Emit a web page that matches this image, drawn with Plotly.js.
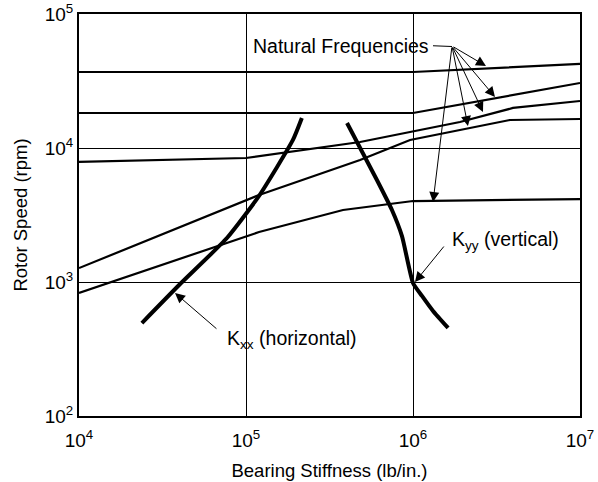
<!DOCTYPE html>
<html>
<head>
<meta charset="utf-8">
<script src="https://cdn.plot.ly/plotly-3.0.1.min.js"></script>
<style>html,body{margin:0;padding:0;background:#fff;}</style>
</head>
<body>
<div id="chart" style="width:598px;height:482px;"></div>
<script>
// Natural frequency curves (bearing stiffness lb/in, rotor speed rpm)
const xA = [1e4, 1e6, 1e7];
const yA = [36900, 36900, 42400];
const xB = [1e4, 1e6, 1e7];
const yB = [18240, 18240, 30560];
const xC = [1e4, 1e5, 4.82e5, 1.91e6, 3.97e6, 1e7];
const yC = [7870, 8420, 11090, 15630, 19900, 22420];
const xD = [1e4, 1.197e5, 4.82e5, 9.6e5, 1.91e6, 3.8e6, 1e7];
const yD = [1270, 4460, 8130, 11480, 13620, 16180, 16460];
const xE = [1e4, 1.197e5, 3.81e5, 1e6, 1e7];
const yE = [828, 2360, 3445, 4020, 4160];
// Bearing stiffness curves
const xKxx = [23800, 40300, 76900, 119700, 191000, 216000];
const yKxx = [494, 966, 2130, 4390, 11480, 16740];
const xKyy = [402700, 608000, 748000, 859000, 1000000, 1132000, 1318000, 1622000];
const yKyy = [15380, 5770, 3445, 2200, 984, 787, 608, 454];
// Tick labels
const xTickVals = [1e4, 1e5, 1e6, 1e7];
const xTickText = ['10<sup>4</sup>', '10<sup>5</sup>', '10<sup>6</sup>', '10<sup>7</sup>'];
const yTickVals = [1e2, 1e3, 1e4, 1e5];
const yTickText = ['10<sup>2</sup>', '10<sup>3</sup>', '10<sup>4</sup>', '10<sup>5</sup>'];
// Arrow targets (log10 of data) for "Natural Frequencies"
const nfTail = [6.2335, 4.761];
const nfHeads = [[6.437, 4.612], [6.491, 4.381], [6.419, 4.269], [6.329, 4.164], [6.120, 3.597]];

const FONT = 'Liberation Sans, Arial, Helvetica, sans-serif';
const nfLine = {color: '#000', width: 2.2};
const kLine = {color: '#000', width: 4, shape: 'spline', smoothing: 0.5};

const traces = [
  {x: xA, y: yA, mode: 'lines', line: nfLine},
  {x: xB, y: yB, mode: 'lines', line: nfLine},
  {x: xC, y: yC, mode: 'lines', line: nfLine},
  {x: xD, y: yD, mode: 'lines', line: nfLine},
  {x: xE, y: yE, mode: 'lines', line: nfLine},
  {x: xKxx, y: yKxx, mode: 'lines', line: kLine},
  {x: xKyy, y: yKyy, mode: 'lines', line: kLine}
];

const arrowStyle = {showarrow: true, arrowhead: 2, arrowsize: 2, arrowwidth: 1, arrowcolor: '#000', text: '', xref: 'x', yref: 'y', axref: 'x', ayref: 'y', standoff: 0, startstandoff: 0};

const annotations = nfHeads.map(h => Object.assign({}, arrowStyle, {x: h[0], y: h[1], ax: nfTail[0], ay: nfTail[1]}));
annotations.push(Object.assign({}, arrowStyle, {x: 4.575, y: 2.918, ax: 4.832, ay: 2.642}));
annotations.push(Object.assign({}, arrowStyle, {x: 6.012, y: 3.0, ax: 6.192, ay: 3.276}));
annotations.push({text: 'Natural Frequencies', xref: 'paper', yref: 'paper', x: 0.7026, y: 0.921, xanchor: 'right', yanchor: 'middle', showarrow: false, font: {family: FONT, size: 19.5, color: '#000'}});
annotations.push({text: 'K<sub>xx</sub> (horizontal)', xref: 'x', yref: 'y', x: 4.874, y: 2.57, xanchor: 'left', yanchor: 'middle', showarrow: false, font: {family: FONT, size: 19.5, color: '#000'}});
annotations.push({text: 'K<sub>yy</sub> (vertical)', xref: 'x', yref: 'y', x: 6.222, y: 3.31, xanchor: 'left', yanchor: 'middle', showarrow: false, font: {family: FONT, size: 19.5, color: '#000'}});

const axisCommon = {
  type: 'log', showgrid: true, gridcolor: '#000', gridwidth: 1, zeroline: false,
  showline: true, linecolor: '#000', linewidth: 2, mirror: true, ticks: '',
  tickfont: {family: FONT, size: 19, color: '#000'}
};

const layout = {
  width: 598, height: 482,
  margin: {l: 79, r: 18, t: 14, b: 66},
  paper_bgcolor: '#fff', plot_bgcolor: '#fff',
  showlegend: false,
  font: {family: FONT, color: '#000'},
  xaxis: Object.assign({}, axisCommon, {
    range: [4, 7], tickvals: xTickVals, ticktext: xTickText, ticklabelstandoff: 6,
    title: {text: 'Bearing Stiffness (lb/in.)', font: {family: FONT, size: 18.5, color: '#000'}, standoff: 14}
  }),
  yaxis: Object.assign({}, axisCommon, {
    range: [2, 5], tickvals: yTickVals, ticktext: yTickText,
    title: {text: 'Rotor Speed (rpm)', font: {family: FONT, size: 18.5, color: '#000'}, standoff: 12}
  }),
  shapes: [
    {type: 'line', xref: 'paper', yref: 'paper', x0: 0.7066, x1: 0.7445, y0: 0.921, y1: 0.919, line: {color: '#000', width: 1.1}}
  ],
  annotations: annotations
};

Plotly.newPlot('chart', traces, layout, {staticPlot: true, displayModeBar: false});
</script>
</body>
</html>
